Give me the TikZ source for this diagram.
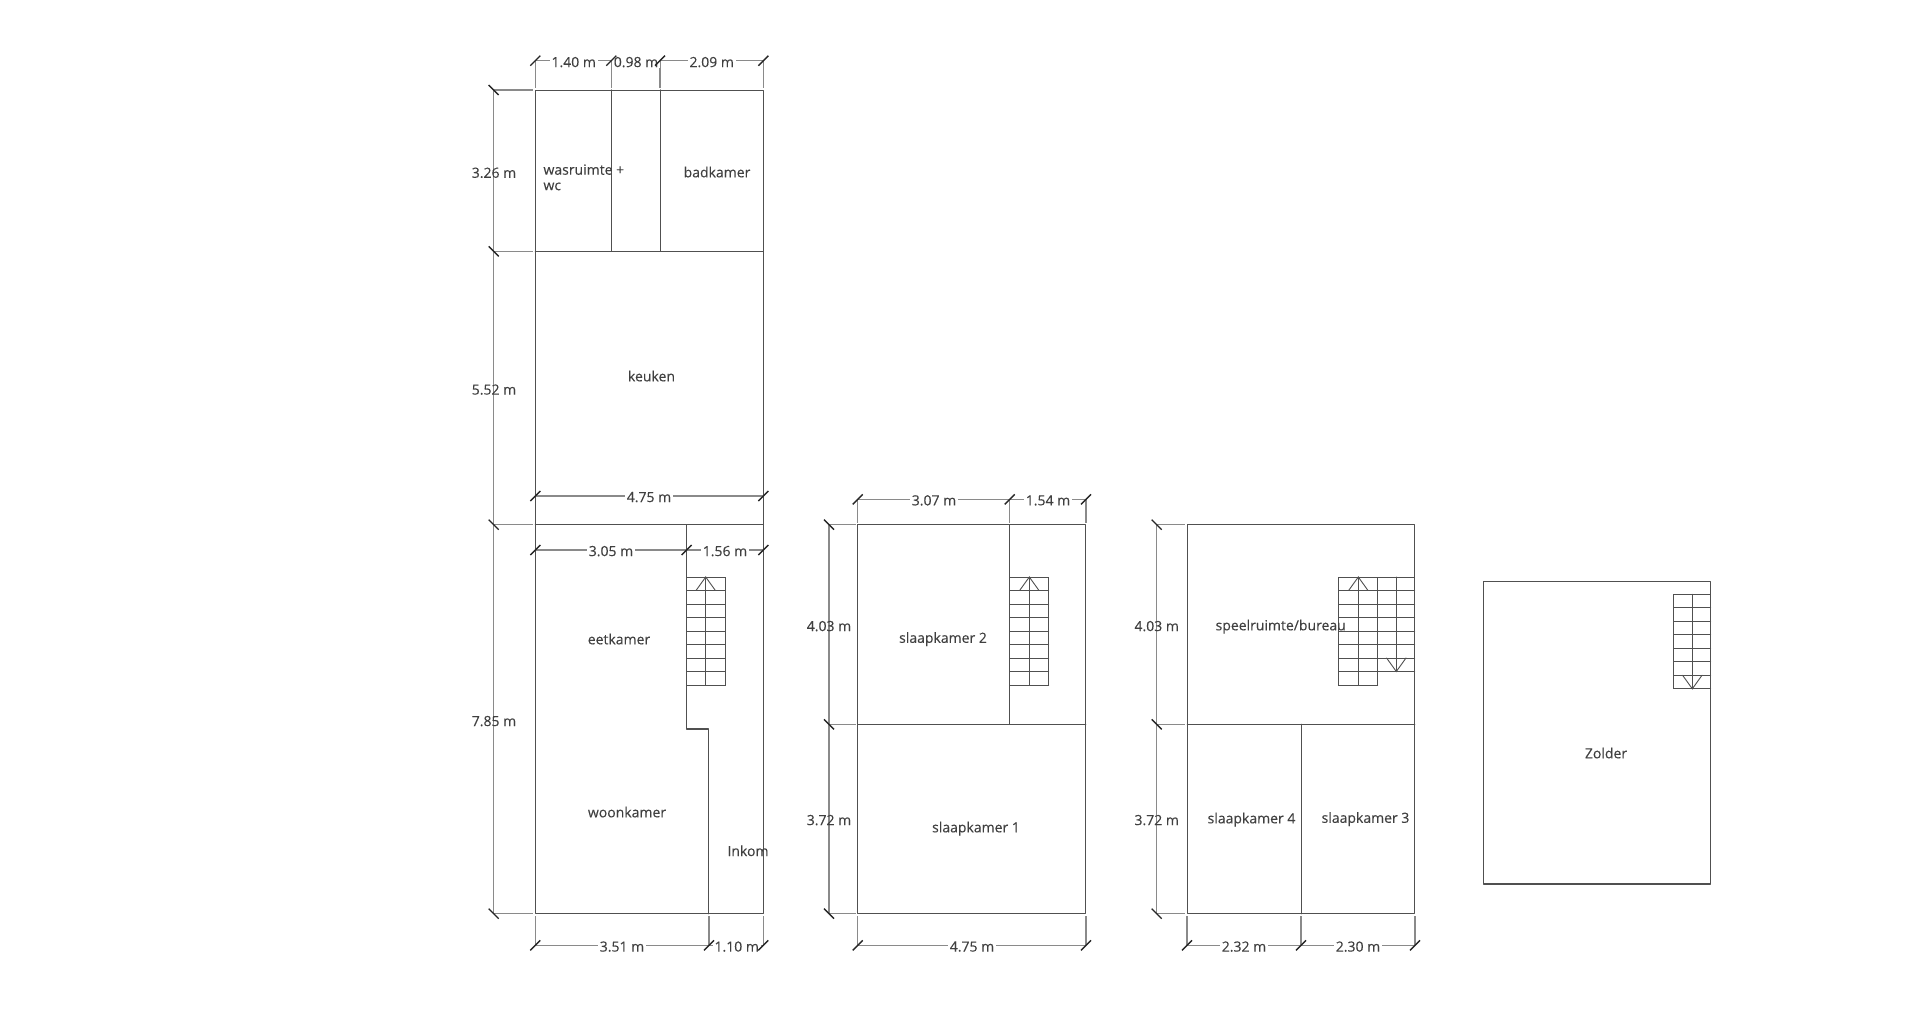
\documentclass[tikz,border=0pt]{standalone}
\usepackage{fontspec}
\setmainfont{Open Sans}[FakeBold=0.12]
\newfontface\lblfont{Open Sans}[FakeBold=0.12]
\definecolor{wallc}{HTML}{505050}
\definecolor{dimc}{HTML}{8A8A8A}
\definecolor{textc}{HTML}{404040}
\tikzset{
  wall/.style={draw=wallc,line width=1.15pt,line cap=round,line join=round},
  stairl/.style={draw=wallc,line width=0.9pt,line cap=round},
  dimline/.style={draw=dimc,line width=1.2pt},
  tick/.style={draw=black!85,line width=1.4pt},
  lbl/.style={font=\lblfont\fontsize{14}{17}\selectfont,text=textc,inner sep=0pt,text depth=0pt},
  hdim/.style={lbl,fill=white,inner xsep=2pt,inner ysep=1pt,xshift=1pt,yshift=-1pt},
  vdim/.style={lbl,xshift=1pt,yshift=-1pt},
}
\newcommand{\hticks}[2]{\foreach \tx in {#2}{\draw[tick] (\tx-5,#1+5) -- (\tx+5,#1-5);}}
\newcommand{\vticks}[2]{\foreach \ty in {#2}{\draw[tick] (#1-5,\ty-5) -- (#1+5,\ty+5);}}
\newcommand{\stairgrid}[5]{%
  \draw[stairl] (#1,#3) rectangle (#2,#3+#4*13.5);
  \foreach \rw in {1,...,#4}{\draw[stairl] (#1,#3+\rw*13.5) -- (#2,#3+\rw*13.5);}
  \draw[stairl] (#5,#3) -- (#5,#3+#4*13.5);}
\newcommand{\uparrowhead}[2]{\draw[stairl] (#1-9.7,#2+13.5) -- (#1,#2) -- (#1+9.7,#2+13.5);}
\newcommand{\downarrowhead}[2]{\draw[stairl] (#1-9.7,#2-13.5) -- (#1,#2) -- (#1+9.7,#2-13.5);}
\begin{document}
\begin{tikzpicture}[x=1pt,y=-1pt]
\useasboundingbox[fill=white] (0,0) rectangle (1920,1012);

% ---- plan 1: dimension lines
\draw[dimline] (493.7,90) -- (493.7,913.7);
\foreach \yy in {90,251.3,524.7,913.7}{\draw[dimline] (493.7,\yy) -- (533,\yy);}
\draw[dimline] (535.3,60.7) -- (763.3,60.7);
\foreach \xx in {535.3,611.3,660,763.3}{\draw[dimline] (\xx,60.7) -- (\xx,88);}
\draw[dimline] (535.3,496) -- (763.3,496);
\draw[dimline] (535.3,550) -- (763.3,550);
\draw[dimline] (535.3,945.3) -- (763.3,945.3);
\foreach \xx in {535.3,709,763.3}{\draw[dimline] (\xx,916) -- (\xx,945.3);}

% ---- plan 1: walls
\draw[wall] (535.3,90.3) rectangle (763.3,913.7);
\draw[wall] (535.3,251.3) -- (763.3,251.3);
\draw[wall] (535.3,524.7) -- (763.3,524.7);
\draw[wall] (611.3,90) -- (611.3,251.3);
\draw[wall] (660.3,90) -- (660.3,251.3);
\draw[wall] (686.7,524.7) -- (686.7,729) -- (708.7,729) -- (708.7,913.7);
\stairgrid{686.7}{725}{577}{8}{705.7}
\uparrowhead{705.7}{577}

% ---- plan 2
\draw[dimline] (829,524.7) -- (829,913.7);
\foreach \yy in {524.7,724.3,913.7}{\draw[dimline] (829,\yy) -- (855.5,\yy);}
\draw[dimline] (857.7,499.3) -- (1086,499.3);
\foreach \xx in {857.7,1009.7,1086}{\draw[dimline] (\xx,499.3) -- (\xx,522.5);}
\draw[dimline] (857.7,945.3) -- (1086,945.3);
\foreach \xx in {857.7,1086}{\draw[dimline] (\xx,916) -- (\xx,945.3);}
\draw[wall] (857.7,524.7) rectangle (1085.7,913.7);
\draw[wall] (857.7,724.3) -- (1085.7,724.3);
\draw[wall] (1009.7,524.7) -- (1009.7,724.3);
\stairgrid{1009.7}{1048.7}{577}{8}{1029.3}
\uparrowhead{1029.3}{577}

% ---- plan 3
\draw[dimline] (1156.7,524.7) -- (1156.7,913.7);
\foreach \yy in {524.7,724.3,913.7}{\draw[dimline] (1156.7,\yy) -- (1185,\yy);}
\draw[dimline] (1187,945.3) -- (1415,945.3);
\foreach \xx in {1187,1301,1415}{\draw[dimline] (\xx,916) -- (\xx,945.3);}
\draw[wall] (1187.3,524.7) rectangle (1414.7,913.7);
\draw[wall] (1187.3,724.3) -- (1414.7,724.3);
\draw[wall] (1301.3,724.3) -- (1301.3,913.7);
\stairgrid{1338.7}{1377.7}{577}{8}{1358.3}
\uparrowhead{1358.3}{577}
\stairgrid{1377.7}{1414.7}{577}{7}{1396.3}
\downarrowhead{1396.3}{671.5}

% ---- plan 4
\draw[wall] (1483.3,581.7) rectangle (1710.7,884);
\stairgrid{1673.7}{1710.7}{594.3}{7}{1692.3}
\downarrowhead{1692.3}{688.8}

% ---- room labels
\node[lbl,anchor=west,align=left,font=\lblfont\fontsize{14}{15.5}\selectfont] (wasruimte) at (543.3,177.3) {wasruimte +\\wc};
\node[lbl] (badkamer) at (717,172) {badkamer};
\node[lbl] (keuken) at (651.5,376) {keuken};
\node[lbl] (eetkamer) at (619,639) {eetkamer};
\node[lbl] (woonkamer) at (627,812) {woonkamer};
\node[lbl] (inkom) at (748,850.7) {Inkom};
\node[lbl] (slaap2) at (943,637.5) {slaapkamer 2};
\node[lbl] (slaap1) at (976,827) {slaapkamer 1};
\node[lbl] (speel) at (1280.7,625) {speelruimte/bureau};
\node[lbl] (slaap4) at (1251.5,818) {slaapkamer 4};
\node[lbl] (slaap3) at (1365.5,817.5) {slaapkamer 3};
\node[lbl] (zolder) at (1606,753) {Zolder};

% ---- dimension labels
\node[hdim] (d140) at (572.7,61) {1.40 m};
\node[hdim] (d098) at (635,61) {0.98 m};
\node[hdim] (d209) at (710.7,61) {2.09 m};
\node[hdim] (d475a) at (648,496) {4.75 m};
\node[hdim] (d305) at (610,550) {3.05 m};
\node[hdim] (d156) at (724,550) {1.56 m};
\node[hdim] (d351) at (621,945.5) {3.51 m};
\node[hdim] (d110) at (735.7,945.5) {1.10 m};
\node[hdim] (d307) at (933,499.3) {3.07 m};
\node[hdim] (d154) at (1047,499.3) {1.54 m};
\node[hdim] (d475b) at (971,945.5) {4.75 m};
\node[hdim] (d232) at (1243,945.5) {2.32 m};
\node[hdim] (d230) at (1357,945.5) {2.30 m};
\node[vdim] (d326) at (493,171.7) {3.26 m};
\node[vdim] (d552) at (493,388.5) {5.52 m};
\node[vdim] (d785) at (493,720) {7.85 m};
\node[vdim] (d403a) at (828,625) {4.03 m};
\node[vdim] (d372a) at (828,819) {3.72 m};
\node[vdim] (d403b) at (1155.7,625) {4.03 m};
\node[vdim] (d372b) at (1155.7,819) {3.72 m};

% ---- ticks
\hticks{60.7}{535.3,611.3,660,763.3}
\hticks{496}{535.3,763.3}
\hticks{550}{535.3,686.7,763.3}
\hticks{945.3}{535.3,709,763.3}
\hticks{499.3}{857.7,1009.7,1086}
\hticks{945.3}{857.7,1086}
\hticks{945.3}{1187,1301,1415}
\vticks{493.7}{90,251.3,524.7,913.7}
\vticks{829}{524.7,724.3,913.7}
\vticks{1156.7}{524.7,724.3,913.7}
\end{tikzpicture}
\end{document}
